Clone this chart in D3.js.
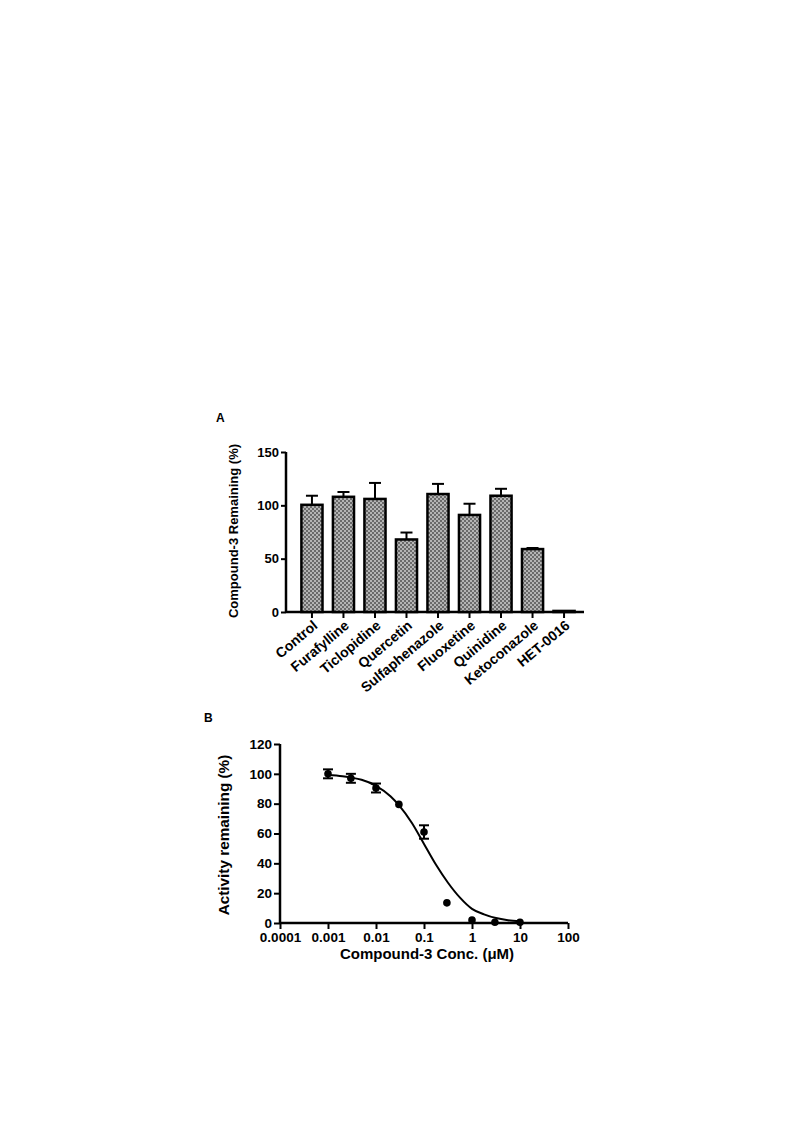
<!DOCTYPE html>
<html><head><meta charset="utf-8">
<script src="https://cdn.jsdelivr.net/npm/d3@7"></script>
<style>body{margin:0;background:#fff}svg{display:block}text{font-family:Arial,"Liberation Sans",sans-serif;font-weight:bold;fill:#000}</style>
</head><body>
<script>
// Panel A data
const categories = ["Control","Furafylline","Ticlopidine","Quercetin","Sulfaphenazole","Fluoxetine","Quinidine","Ketoconazole","HET-0016"];
const barMeans = [100.5, 108, 106, 68, 110.6, 91, 109, 59, 1];
const barErrors = [8.5, 4.5, 15, 6.5, 9.5, 10.5, 6.5, 1, 0];
const yTicksA = [0, 50, 100, 150];

// Panel B data
const concentrations = [0.001, 0.003, 0.01, 0.03, 0.1, 0.3, 1, 3, 10];
const activity = [100, 97, 90.5, 79.5, 61, 13.5, 2, 0.5, 0.5];
const activityErr = [3, 3, 3, 0, 4.5, 0, 0, 0, 0];
const fitX = [0.001, 0.002, 0.003, 0.005, 0.01, 0.02, 0.03, 0.056, 0.1, 0.178, 0.316, 0.562, 1, 1.78, 3.16, 5.62, 10];
const fitY = [99.2, 98.4, 97.5, 96, 92, 85, 79, 67, 53, 39, 27, 17, 9.5, 5.8, 3.3, 1.9, 1.1];
const xTicksB = [0.0001, 0.001, 0.01, 0.1, 1, 10, 100];
const yTicksB = [0, 20, 40, 60, 80, 100, 120];

const svg = d3.select("body").append("svg").attr("width", 793).attr("height", 1121);

const defs = svg.append("defs");
const pat = defs.append("pattern").attr("id","chk").attr("patternUnits","userSpaceOnUse").attr("width",4).attr("height",4);
pat.append("rect").attr("width",4).attr("height",4).attr("fill","#b4b4b4");
pat.append("rect").attr("width",2).attr("height",2).attr("fill","#6a6a6a");
pat.append("rect").attr("x",2).attr("y",2).attr("width",2).attr("height",2).attr("fill","#6a6a6a");

// ---------- Panel A ----------
const A = svg.append("g");
A.append("text").attr("x",216).attr("y",422).attr("font-size",12).text("A");

const xA = d3.scaleBand().domain(categories).range([291, 585]).padding(0.33);
const yA = d3.scaleLinear().domain([0,150]).range([612, 452]);

const axLeftA = A.append("g").attr("transform","translate(286,0)")
  .call(d3.axisLeft(yA).tickValues(yTicksA).tickSize(5).tickPadding(2).tickFormat(d3.format("d")));
const axBotA = A.append("g").attr("transform","translate(0,612)")
  .call(d3.axisBottom(xA).tickSize(6).tickPadding(3));
[axLeftA, axBotA].forEach(g => {
  g.select(".domain").attr("stroke","#000").attr("stroke-width",2.5);
  g.selectAll(".tick line").attr("stroke","#000").attr("stroke-width",2);
  g.selectAll("text").attr("font-size",13).attr("font-family","Arial,'Liberation Sans',sans-serif").attr("font-weight","bold").attr("fill","#000");
});
axLeftA.select(".domain").attr("d","M0,452V612");
axBotA.select(".domain").attr("d","M286,0H584");
axBotA.selectAll(".tick text")
  .attr("font-size",14)
  .attr("text-anchor","end")
  .attr("transform","translate(5,10) rotate(-40)")
  .attr("dy","0.35em").attr("x",-2).attr("y",0);

A.append("text").attr("transform","translate(238,531) rotate(-90)")
  .attr("text-anchor","middle").attr("font-size",13).text("Compound-3 Remaining (%)");

const barG = A.append("g");
categories.forEach((c,i) => {
  const x = xA(c), w = xA.bandwidth(), cx = x + w/2;
  if (barErrors[i] > 0) {
    barG.append("line").attr("x1",cx).attr("x2",cx).attr("y1",yA(barMeans[i])).attr("y2",yA(barMeans[i]+barErrors[i])).attr("stroke","#000").attr("stroke-width",2);
    barG.append("line").attr("x1",cx-6).attr("x2",cx+6).attr("y1",yA(barMeans[i]+barErrors[i])).attr("y2",yA(barMeans[i]+barErrors[i])).attr("stroke","#000").attr("stroke-width",2);
  }
  barG.append("rect").attr("x",x).attr("y",yA(barMeans[i])).attr("width",w).attr("height",yA(0)-yA(barMeans[i]))
    .attr("fill","url(#chk)").attr("stroke","#000").attr("stroke-width",2.5);
});

// ---------- Panel B ----------
const B = svg.append("g");
B.append("text").attr("x",204).attr("y",722).attr("font-size",12).text("B");

const xB = d3.scaleLog().domain([0.0001,100]).range([280, 568]);
const yB = d3.scaleLinear().domain([0,120]).range([923, 744]);

const axLeftB = B.append("g").attr("transform","translate(280,0)")
  .call(d3.axisLeft(yB).tickValues(yTicksB).tickSize(6).tickPadding(2).tickFormat(d3.format("d")));
const axBotB = B.append("g").attr("transform","translate(0,923)")
  .call(d3.axisBottom(xB).tickValues(xTicksB).tickSize(6).tickPadding(3).tickFormat(d => String(+d.toPrecision(1))));
[axLeftB, axBotB].forEach(g => {
  g.select(".domain").attr("stroke","#000").attr("stroke-width",2.5);
  g.selectAll(".tick line").attr("stroke","#000").attr("stroke-width",2);
  g.selectAll("text").attr("font-size",13.5).attr("font-family","Arial,'Liberation Sans',sans-serif").attr("font-weight","bold").attr("fill","#000");
});
axLeftB.select(".domain").attr("d","M0,744V923");
axBotB.select(".domain").attr("d","M280,0H568");

B.append("text").attr("transform","translate(229,835) rotate(-90)")
  .attr("text-anchor","middle").attr("font-size",15.3).text("Activity remaining (%)");
B.append("text").attr("x",427).attr("y",959).attr("text-anchor","middle").attr("font-size",15).text("Compound-3 Conc. (μM)");

const line = d3.line().x(d => xB(d[0])).y(d => yB(d[1])).curve(d3.curveMonotoneX);
B.append("path").datum(fitX.map((x,i)=>[x,fitY[i]])).attr("d",line).attr("fill","none").attr("stroke","#000").attr("stroke-width",2);

concentrations.forEach((c,i) => {
  const cx = xB(c);
  if (activityErr[i] > 0) {
    const y1 = yB(activity[i]-activityErr[i]), y2 = yB(activity[i]+activityErr[i]);
    B.append("line").attr("x1",cx).attr("x2",cx).attr("y1",y1).attr("y2",y2).attr("stroke","#000").attr("stroke-width",2);
    [y1,y2].forEach(y => B.append("line").attr("x1",cx-5).attr("x2",cx+5).attr("y1",y).attr("y2",y).attr("stroke","#000").attr("stroke-width",2));
  }
  B.append("circle").attr("cx",cx).attr("cy",yB(activity[i])).attr("r",3.8).attr("fill","#000");
});
</script>
</body></html>
